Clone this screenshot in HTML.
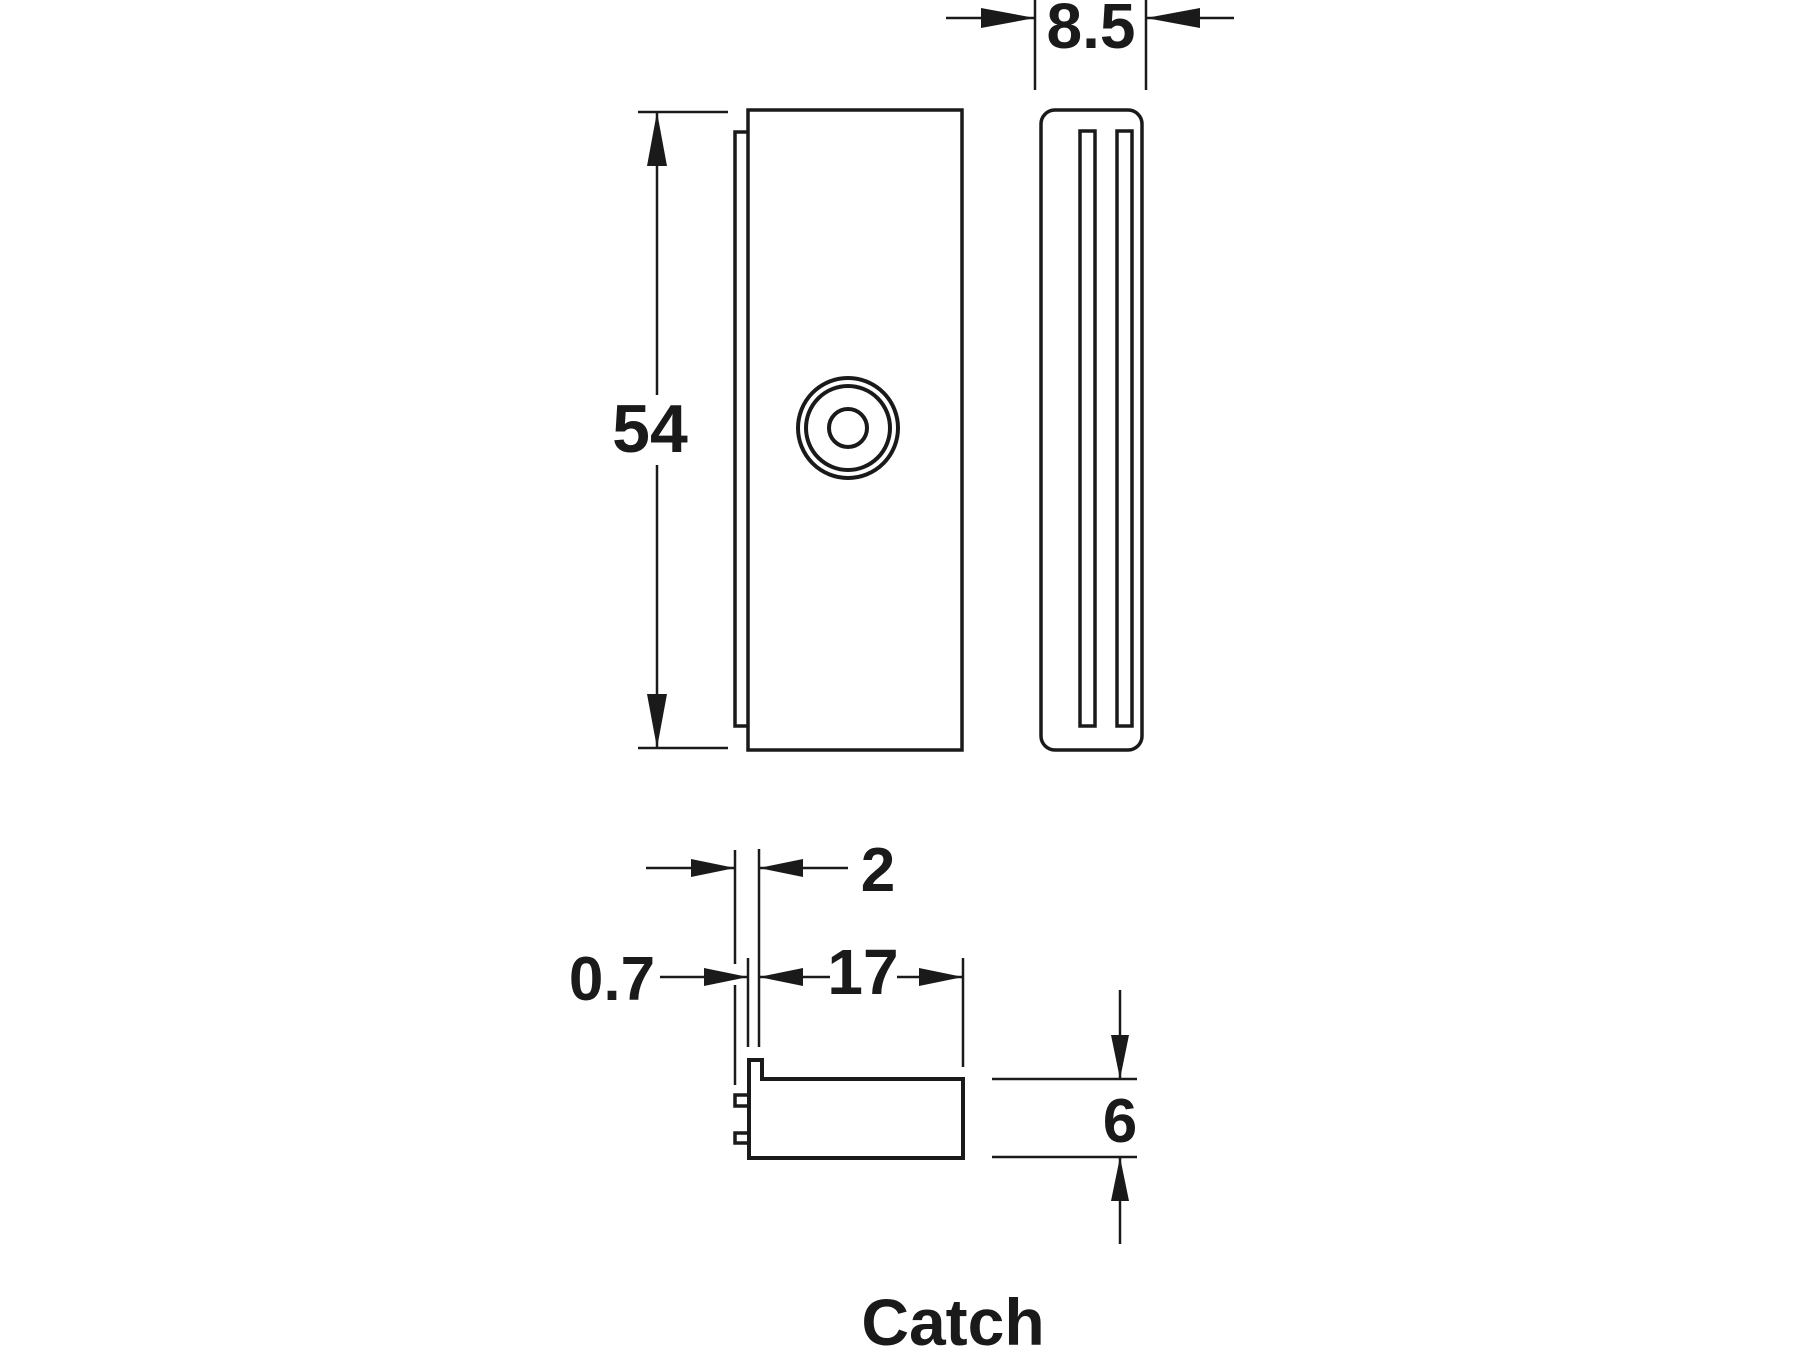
<!DOCTYPE html>
<html><head><meta charset="utf-8"><style>
html,body{margin:0;padding:0;background:#fff;}
svg{display:block;}
text{font-family:"Liberation Sans",sans-serif;font-weight:bold;fill:#1a1a1a;}
</style></head><body>
<svg width="1800" height="1350" viewBox="0 0 1800 1350" xmlns="http://www.w3.org/2000/svg">
<defs>
<marker id="a" markerWidth="54" markerHeight="20" refX="53" refY="10" orient="auto" markerUnits="userSpaceOnUse">
<path d="M0,0 L54,10 L0,20 Z" fill="#1a1a1a"/></marker>
<marker id="b" markerWidth="44" markerHeight="18" refX="43" refY="9" orient="auto" markerUnits="userSpaceOnUse">
<path d="M0,0 L44,9 L0,18 Z" fill="#1a1a1a"/></marker>
</defs>
<g stroke="#1a1a1a" fill="none">
<rect x="748" y="110" width="214" height="640" stroke-width="3.5"/>
<path d="M748,132 H735 V726 H748" stroke-width="3.5"/>
<circle cx="848" cy="428" r="50" stroke-width="4"/>
<circle cx="848" cy="428" r="42" stroke-width="4"/>
<circle cx="848" cy="428" r="19" stroke-width="4"/>
<line x1="638" y1="112" x2="728" y2="112" stroke-width="2.5"/>
<line x1="638" y1="748" x2="728" y2="748" stroke-width="2.5"/>
<line x1="657" y1="395" x2="657" y2="113" stroke-width="2.5" marker-end="url(#a)"/>
<line x1="657" y1="465" x2="657" y2="747" stroke-width="2.5" marker-end="url(#a)"/>
<rect x="1041" y="110" width="101" height="640" rx="14" stroke-width="3.5"/>
<rect x="1080" y="131" width="15" height="595" stroke-width="3.5"/>
<rect x="1117" y="131" width="15" height="595" stroke-width="3.5"/>
<line x1="1035" y1="0" x2="1035" y2="90" stroke-width="2.5"/>
<line x1="1146" y1="0" x2="1146" y2="90" stroke-width="2.5"/>
<line x1="946" y1="18" x2="1034" y2="18" stroke-width="2.5" marker-end="url(#a)"/>
<line x1="1234" y1="18" x2="1147" y2="18" stroke-width="2.5" marker-end="url(#a)"/>
<path d="M749,1158 V1060 H762 V1079 H963 V1158 Z" stroke-width="4"/>
<path d="M749,1095 H735 V1106 H749 M749,1133 H735 V1143 H749" stroke-width="3.5"/>
<line x1="735" y1="850" x2="735" y2="964" stroke-width="2.5"/>
<line x1="735" y1="985" x2="735" y2="1085" stroke-width="2.5"/>
<line x1="748" y1="958" x2="748" y2="1047" stroke-width="2.5"/>
<line x1="759" y1="849" x2="759" y2="1047" stroke-width="2.5"/>
<line x1="963" y1="958" x2="963" y2="1067" stroke-width="2.5"/>
<line x1="646" y1="868" x2="734" y2="868" stroke-width="2.5" marker-end="url(#b)"/>
<line x1="848" y1="868" x2="760" y2="868" stroke-width="2.5" marker-end="url(#b)"/>
<line x1="660" y1="977" x2="747" y2="977" stroke-width="2.5" marker-end="url(#b)"/>
<line x1="830" y1="977" x2="760" y2="977" stroke-width="2.5" marker-end="url(#b)"/>
<line x1="897" y1="977" x2="962" y2="977" stroke-width="2.5" marker-end="url(#b)"/>
<line x1="992" y1="1079" x2="1137" y2="1079" stroke-width="2.5"/>
<line x1="992" y1="1157" x2="1137" y2="1157" stroke-width="2.5"/>
<line x1="1120" y1="990" x2="1120" y2="1078" stroke-width="2.5" marker-end="url(#b)"/>
<line x1="1120" y1="1244" x2="1120" y2="1158" stroke-width="2.5" marker-end="url(#b)"/>
</g>
<text x="650" y="452" font-size="68" text-anchor="middle">54</text>
<text x="1091" y="48" font-size="64" text-anchor="middle">8.5</text>
<text x="878" y="891" font-size="62" text-anchor="middle">2</text>
<text x="612" y="1000" font-size="62" text-anchor="middle">0.7</text>
<text x="863" y="994" font-size="64" text-anchor="middle">17</text>
<text x="1120" y="1142" font-size="62" text-anchor="middle">6</text>
<text x="953" y="1345" font-size="66" text-anchor="middle">Catch</text>
</svg>
</body></html>
